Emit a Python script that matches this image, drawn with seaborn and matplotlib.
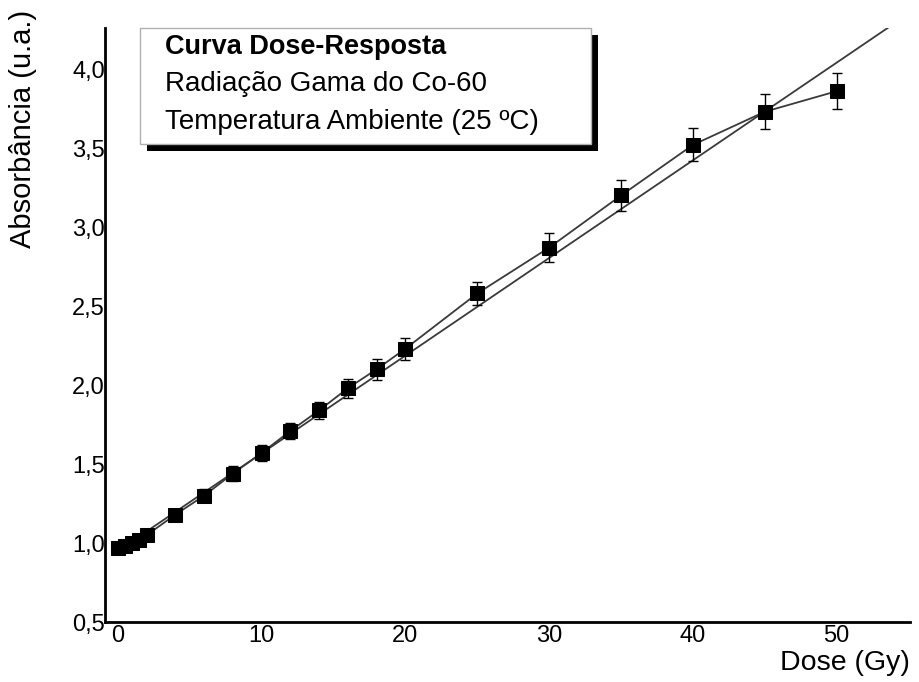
import matplotlib
matplotlib.use("Agg")
import matplotlib.pyplot as plt
import seaborn as sns
from matplotlib.patches import Rectangle

# Dose-response data (Co-60 gamma irradiation, room temperature)
dose = [0, 0.5, 1, 1.5, 2, 4, 6, 8, 10, 12, 14, 16, 18, 20, 25, 30, 35, 40, 45, 50]
absorbancia = [0.97, 0.98, 1.00, 1.02, 1.05, 1.18, 1.30, 1.44, 1.57, 1.71, 1.84,
               1.98, 2.10, 2.23, 2.58, 2.87, 3.20, 3.52, 3.73, 3.86]
erro = [0.03, 0.03, 0.03, 0.03, 0.03, 0.035, 0.04, 0.045, 0.05, 0.05, 0.055,
        0.06, 0.065, 0.07, 0.075, 0.09, 0.10, 0.105, 0.11, 0.115]

# Linear calibration line (end points)
fit_dose = [0, 55]
fit_abs = [0.95, 4.35]

x_ticks = [0, 10, 20, 30, 40, 50]
x_labels = ["0", "10", "20", "30", "40", "50"]
y_ticks = [0.5, 1.0, 1.5, 2.0, 2.5, 3.0, 3.5, 4.0]
y_labels = ["0,5", "1,0", "1,5", "2,0", "2,5", "3,0", "3,5", "4,0"]

legend_lines = ["Curva Dose-Resposta", "Radiação Gama do Co-60",
                "Temperatura Ambiente (25 ºC)"]

sns.set_theme(style="white")
plt.rcParams["font.family"] = ["Liberation Sans", "DejaVu Sans"]

W, H = 920, 682
fig = plt.figure(figsize=(W / 100, H / 100), dpi=100)
ax = fig.add_axes([105 / W, 1 - 622 / H, 805 / W, 594 / H])

line_col = "#3a3a3a"
sns.lineplot(x=fit_dose, y=fit_abs, color=line_col, lw=1.3, ax=ax)
ax.errorbar(dose, absorbancia, yerr=erro, fmt="none", ecolor="black",
            elinewidth=1.0, capsize=3.5, capthick=1.0, zorder=3)
sns.lineplot(x=dose, y=absorbancia, color=line_col, lw=1.3, ax=ax,
             marker="s", markersize=10.5, markerfacecolor="black",
             markeredgecolor="black", zorder=4)

ax.set_xlim(-0.9, 55.1)
ax.set_ylim(0.5, 4.26)
ax.set_xticks(x_ticks)
ax.set_xticklabels(x_labels)
ax.set_yticks(y_ticks)
ax.set_yticklabels(y_labels)
ax.tick_params(axis="both", length=0, labelsize=17, colors="black")
ax.tick_params(axis="x", pad=2)
ax.tick_params(axis="y", pad=0)

for side in ("top", "right"):
    ax.spines[side].set_visible(False)
for side in ("left", "bottom"):
    ax.spines[side].set_color("black")
    ax.spines[side].set_linewidth(2.0)

ax.set_ylabel("Absorbância (u.a.)", fontsize=21, color="black")
ax.yaxis.set_label_coords(-0.084, 0.83)
ax.set_xlabel("Dose (Gy)", fontsize=20.5, color="black", loc="right")
ax.xaxis.set_label_coords(1.0, -0.047)

# Caption box with drop shadow
bx0, bx1, by0, by1 = 140, 591, 28, 144
off = 7
fig.patches.append(Rectangle(((bx0 + off) / W, 1 - (by1 + off) / H),
                             (bx1 - bx0) / W, (by1 - by0) / H,
                             transform=fig.transFigure, facecolor="black",
                             edgecolor="none", zorder=5))
fig.patches.append(Rectangle((bx0 / W, 1 - by1 / H),
                             (bx1 - bx0) / W, (by1 - by0) / H,
                             transform=fig.transFigure, facecolor="white",
                             edgecolor="#b0b0b0", lw=1.0, zorder=6))

text_y = [47, 84, 122]
for i, (txt, ty) in enumerate(zip(legend_lines, text_y)):
    fig.text(165 / W, 1 - ty / H, txt, fontsize=19.5 if i == 0 else 20,
             fontweight="bold" if i == 0 else "normal", color="black",
             ha="left", va="center", zorder=7)

fig.savefig("out.png", dpi=100)
